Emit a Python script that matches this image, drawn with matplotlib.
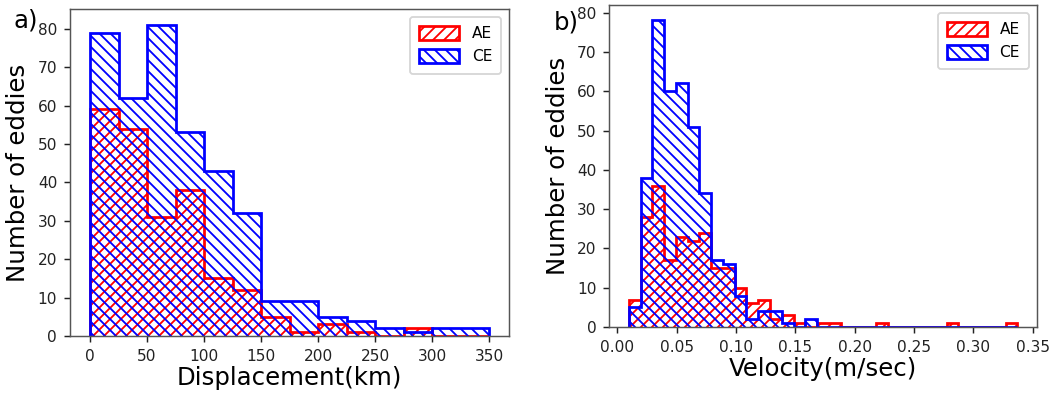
import numpy as np
import matplotlib
matplotlib.use("Agg")
import matplotlib.pyplot as plt

# ---- panel a: displacement histogram (counts per 25 km bin) ----
disp_edges = [0, 25, 50, 75, 100, 125, 150, 175, 200, 225, 250, 275, 300, 325, 350]
disp_ae = [59, 54, 31, 38, 15, 12, 5, 1, 3, 1, 0, 2, 0, 0]
disp_ce = [79, 62, 81, 53, 43, 32, 9, 9, 5, 4, 2, 1, 2, 2]

# ---- panel b: velocity histogram (33 common bins between data min/max) ----
vel_min, vel_max, vel_nbins = 0.0096, 0.337, 33
vel_ae = [7, 28, 36, 17, 23, 22, 24, 15, 15, 10, 6, 7, 2, 3, 1, 0, 1, 1,
          0, 0, 0, 1, 0, 0, 0, 0, 0, 1, 0, 0, 0, 0, 1]
vel_ce = [5, 38, 78, 60, 62, 51, 34, 17, 16, 8, 2, 4, 4, 1, 0, 2, 0, 0,
          0, 0, 0, 0, 0, 0, 0, 0, 0, 0, 0, 0, 0, 0, 0]

DPI = 132
plt.rcParams["hatch.linewidth"] = 1.0
fig = plt.figure(figsize=(1058 / DPI, 394 / DPI), dpi=DPI)
ax1 = fig.add_axes([0.0662, 0.1472, 0.415, 0.829])
ax2 = fig.add_axes([0.5759, 0.170, 0.404, 0.817])


def draw(ax, edges, ae, ce):
    edges = np.asarray(edges, dtype=float)
    centers = 0.5 * (edges[:-1] + edges[1:])
    ax.hist(centers, bins=edges, weights=ae, histtype="step", color="red",
            hatch="////", lw=1.5, label="AE")
    ax.hist(centers, bins=edges, weights=ce, histtype="step", color="blue",
            hatch="\\\\\\\\", lw=1.5, label="CE")
    ax.set_ylabel("Number of eddies", fontsize=13.3)
    ax.set_yticks(range(0, 81, 10))
    ax.tick_params(labelsize=8.4, colors="#222222")
    for sp in ax.spines.values():
        sp.set_color("#555555")
    ax.legend(loc="upper right", fontsize=8.4, borderpad=0.6,
              handlelength=2.6, handleheight=1.0)


draw(ax1, disp_edges, disp_ae, disp_ce)
ax1.set_xticks(range(0, 351, 50))
ax1.set_xlabel("Displacement(km)", fontsize=13.3, labelpad=1)

vel_edges = np.linspace(vel_min, vel_max, vel_nbins + 1)
draw(ax2, vel_edges, vel_ae, vel_ce)
ax2.set_xticks(np.arange(0, 0.351, 0.05))
ax2.xaxis.set_major_formatter(matplotlib.ticker.FormatStrFormatter("%.2f"))
ax2.set_xlabel("Velocity(m/sec)", fontsize=13.3, labelpad=1)

fig.text(0.013, 0.93, "a)", fontsize=13.3)
fig.text(0.523, 0.925, "b)", fontsize=13.3)

fig.savefig("out.png", dpi=DPI)
